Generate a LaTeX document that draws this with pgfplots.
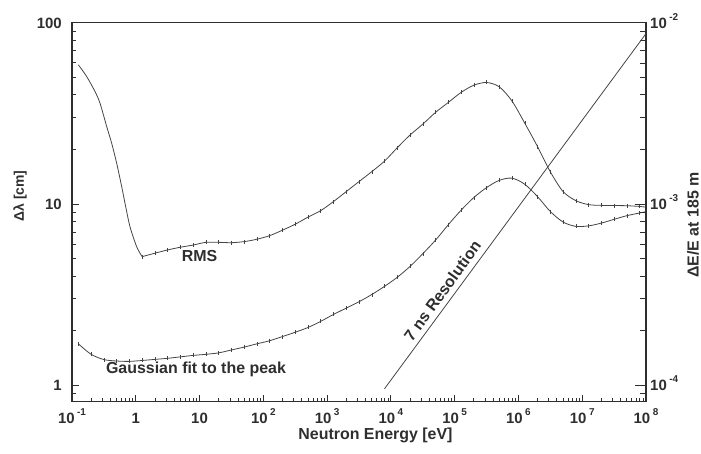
\documentclass[border=0pt]{standalone}
\usepackage{pgfplots}
\pgfplotsset{compat=1.18}
\usepackage{fontspec}
\setmainfont{Liberation Sans}
\definecolor{ink}{HTML}{2E2E2E}
\definecolor{crv}{HTML}{444444}
\newcommand{\tl}[1]{10\hspace{2.5bp}\raisebox{8bp}{\fontsize{10}{10}\selectfont\bfseries #1}}
\begin{document}
\begin{tikzpicture}
\begin{axis}[name=ax,
  scale only axis, width=574bp, height=379bp,
  xmode=log, ymode=log,
  xmin=0.1, xmax=1e8, ymin=0.81, ymax=100,
  axis line style={ink, line width=1.1bp},
  every tick/.style={ink, line width=0.8bp},
  major tick length=7bp, minor tick length=4bp,
  tick align=inside,
  xtick pos=left, ytick pos=left,
  xtick={1e-1,1,1e1,1e2,1e3,1e4,1e5,1e6,1e7,1e8},
  xticklabels={\tl{-1},1,10,\tl{2},\tl{3},\tl{4},\tl{5},\tl{6},\tl{7},\tl{8}},
  minor xtick={2e-1,3e-1,4e-1,5e-1,6e-1,7e-1,8e-1,9e-1,
    2,3,4,5,6,7,8,9,2e1,3e1,4e1,5e1,6e1,7e1,8e1,9e1,
    2e2,3e2,4e2,5e2,6e2,7e2,8e2,9e2,2e3,3e3,4e3,5e3,6e3,7e3,8e3,9e3,
    2e4,3e4,4e4,5e4,6e4,7e4,8e4,9e4,2e5,3e5,4e5,5e5,6e5,7e5,8e5,9e5,
    2e6,3e6,4e6,5e6,6e6,7e6,8e6,9e6,2e7,3e7,4e7,5e7,6e7,7e7,8e7,9e7},
  ytick={1,10,100}, yticklabels={1,10,100},
  minor ytick={0.9,2,3,4,5,6,7,8,9,20,30,40,50,60,70,80,90},
  xticklabel style={anchor=base, inner sep=0pt, yshift=-21.5bp, text=ink, font=\fontsize{15}{15}\selectfont\bfseries},
  yticklabel style={anchor=base east, inner sep=0pt, xshift=-10bp, yshift=-5.4bp, text=ink, font=\fontsize{15}{15}\selectfont\bfseries},
  xlabel={Neutron Energy [eV]},
  xlabel style={at={(axis description cs:0.5287,-0.101)}, anchor=base, text=ink, font=\fontsize{16}{16}\selectfont\bfseries},
  ylabel={Δλ [cm]},
  ylabel style={at={(axis description cs:-0.0906,0.5427)}, anchor=center, text=ink, font=\fontsize{14}{14}\selectfont\bfseries},
]
% RMS, steep low-energy part
\addplot[crv, line width=0.8bp, smooth] coordinates {
 (0.1256,58.61) (0.1698,50.47) (0.2296,41.69) (0.2748,35.97) (0.3499,26.73)
 (0.4188,21.63) (0.5012,16.79) (0.6012,12.47) (0.6776,10.09) (0.8110,7.499)
 (1.0328,5.808) (1.2589,5.117)};
% RMS, marked part
\addplot[crv, line width=0.8bp, smooth, mark=|, mark size=2bp, mark options={solid, line width=0.5bp}] table {
x y
1.2589 5.117
1.9953 5.346
3.1623 5.572
5.0119 5.768
7.9433 5.929
12.589 6.138
19.953 6.138
31.623 6.109
50.119 6.194
79.433 6.383
125.89 6.683
199.53 7.161
316.23 7.727
501.19 8.453
794.33 9.183
1258.9 10.304
1995.3 11.695
3162.3 13.274
5011.9 15.066
7943.3 17.219
12589 20.417
19953 23.988
31623 27.542
50119 31.989
79433 36.308
125890 41.210
199530 45.186
316230 46.774
501190 44.26
794330 36.90
1258900 27.861
1995300 20.701
3162300 15.03
5011900 11.695
7943300 10.423
12589000 9.908
19953000 9.817
31623000 9.795
50119000 9.772
79433000 9.683
100000000 9.594
};
% Gaussian fit to the peak
\addplot[crv, line width=0.8bp, smooth, mark=|, mark size=2bp, mark options={solid, line width=0.5bp}] table {
x y
0.12589 1.6904
0.19953 1.4791
0.31623 1.3836
0.50119 1.3583
0.79433 1.3521
1.2589 1.3677
1.9953 1.3868
3.1623 1.4060
5.0119 1.4321
7.9433 1.4588
12.589 1.4791
19.953 1.5066
31.623 1.5631
50.119 1.6218
79.433 1.6904
125.89 1.7579
199.53 1.8535
316.23 1.9588
501.19 2.0797
794.33 2.2491
1258.9 2.4547
1995.3 2.6607
3162.3 2.8840
5011.9 3.1623
7943.3 3.5075
12589 3.9355
19953 4.5186
31623 5.3088
50119 6.3096
79433 7.6736
125890 9.2257
199530 10.839
316230 12.303
501190 13.490
794330 13.868
1258900 12.823
1995300 10.965
3162300 9.0782
5011900 7.9433
7943300 7.5162
12589000 7.5683
19953000 7.8343
31623000 8.2224
50119000 8.6099
79433000 8.9125
100000000 9.0573
};
\node[anchor=base, text=ink, font=\fontsize{16}{16}\selectfont\bfseries] at (axis cs:10,4.786) {RMS};
\node[anchor=base, text=ink, font=\fontsize{16}{16}\selectfont\bfseries] at (axis cs:8.79,1.157) {Gaussian fit to the peak};
\node[anchor=center, rotate=54, text=ink, font=\fontsize{16}{16}\selectfont\bfseries] at (axis cs:64400,3.319) {7 ns Resolution};
\end{axis}
\begin{axis}[
  scale only axis, width=574bp, height=379bp,
  xmode=log, ymode=log,
  xmin=0.1, xmax=1e8, ymin=0.81e-4, ymax=1e-2,
  axis x line=none, axis y line*=right,
  axis line style={ink, line width=1.1bp},
  every tick/.style={ink, line width=0.8bp},
  major tick length=11bp, minor tick length=6bp,
  tick align=inside,
  ytick={1e-4,1e-3,1e-2}, yticklabels={\tl{-4},\tl{-3},\tl{-2}},
  minor ytick={9e-5,2e-4,3e-4,4e-4,5e-4,6e-4,7e-4,8e-4,9e-4,2e-3,3e-3,4e-3,5e-3,6e-3,7e-3,8e-3,9e-3},
  yticklabel style={anchor=base west, inner sep=0pt, xshift=4bp, yshift=-5.4bp, text=ink, font=\fontsize{15}{15}\selectfont\bfseries},
  ylabel={ΔE/E at 185 m},
  ylabel style={at={(axis description cs:1.082,0.466)}, anchor=center, text=ink, font=\fontsize{16}{16}\selectfont\bfseries},
]
% 7 ns resolution
\addplot[crv, line width=0.8bp] coordinates {(7943,9.55e-5) (1e8,8.71e-3)};
\end{axis}
\pgfresetboundingbox
\path ([shift={(-72bp,-52.3bp)}]ax.south west) rectangle ([shift={(55bp,22.7bp)}]ax.north east);
\end{tikzpicture}
\end{document}
